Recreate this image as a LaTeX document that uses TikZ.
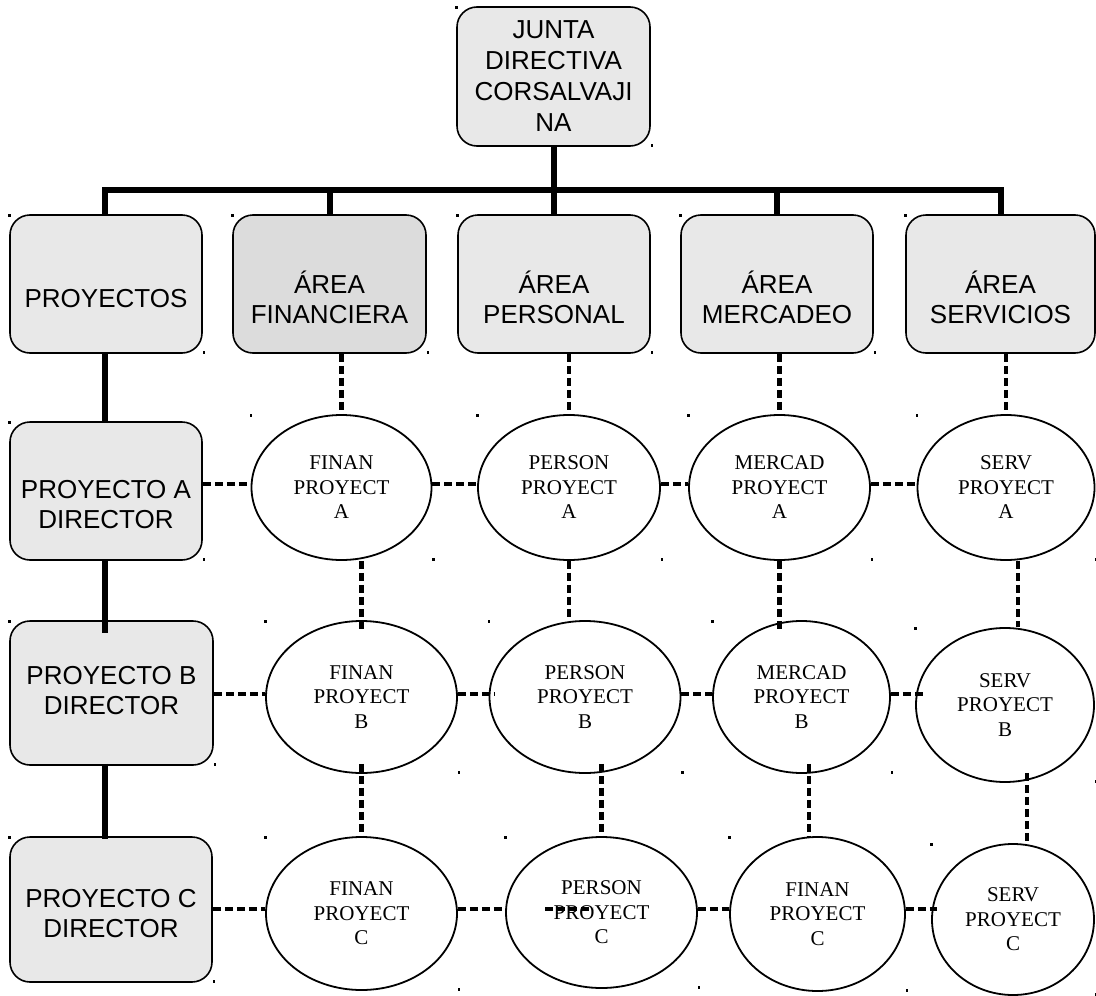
\documentclass[tikz,border=0pt]{standalone}
\usepackage{fontspec}
\setmainfont{Liberation Serif}
\newfontfamily\arialf{Liberation Sans}
\usetikzlibrary{shapes.geometric,calc}
\definecolor{boxgray}{RGB}{232,232,232}
\definecolor{boxdark}{RGB}{220,220,220}
\begin{document}
\begin{tikzpicture}[x=1pt,y=-1pt,
  rbox/.style={draw,line width=1.6pt,rounded corners=20pt,fill=boxgray,inner sep=0pt},
  sanstxt/.style={font=\arialf\fontsize{26}{30}\selectfont,align=center,inner sep=0pt},
  oval/.style={draw,ellipse,line width=1.8pt,inner sep=0pt,align=center,font=\fontsize{21}{24.5}\selectfont},
  solidcon/.style={line width=6pt},
  dashcon/.style={line width=4.5pt,dash pattern=on 8pt off 4pt},
  cornerdot/.style={fill=black}]
\useasboundingbox (0,0) rectangle (1096,996);

% top box
\node[rbox,minimum width=193pt,minimum height=139pt,align=center,
      font=\arialf\fontsize{26}{31}\selectfont] (jd) at (553.5,76.5)
      {JUNTA\\DIRECTIVA\\CORSALVAJI\\NA};

% second row boxes
\node[rbox,minimum width=192pt,minimum height=138pt] (proy) at (106,284) {};
\node[rbox,fill=boxdark,minimum width=193pt,minimum height=138pt] (fin) at (329.5,284) {};
\node[rbox,minimum width=192pt,minimum height=138pt] (per) at (554,284) {};
\node[rbox,minimum width=192pt,minimum height=138pt] (mer) at (777,284) {};
\node[rbox,minimum width=189pt,minimum height=138pt] (ser) at (1000.5,284) {};
\node[sanstxt] (proyT) at ([yshift=-14.5pt]proy.center) {PROYECTOS};
\node[sanstxt] (finT) at ([yshift=-13.5pt]fin.center) {ÁREA\\FINANCIERA};
\node[sanstxt] (perT) at ([yshift=-13.5pt]per.center) {ÁREA\\PERSONAL};
\node[sanstxt] (merT) at ([yshift=-13.5pt]mer.center) {ÁREA\\MERCADEO};
\node[sanstxt] (serT) at ([yshift=-13.5pt]ser.center) {ÁREA\\SERVICIOS};

% director boxes
\node[rbox,minimum width=192pt,minimum height=138pt] (abox) at (106,491) {};
\node[rbox,minimum width=203pt,minimum height=144pt] (bbox) at (111.5,693) {};
\node[rbox,minimum width=202pt,minimum height=145pt] (cbox) at (111,909.5) {};
\node[sanstxt] (aboxT) at ([yshift=-14pt]abox.center) {PROYECTO A\\DIRECTOR};
\node[sanstxt] (bboxT) at ([yshift=2.5pt]bbox.center) {PROYECTO B\\DIRECTOR};
\node[sanstxt] (cboxT) at ([yshift=-4.5pt]cbox.center) {PROYECTO C\\DIRECTOR};

% ellipses
\node[oval,minimum width=180pt,minimum height=145pt] (fa) at (341.5,487.5) {FINAN\\PROYECT\\A};
\node[oval,minimum width=182pt,minimum height=145pt] (pa) at (569,487.5) {PERSON\\PROYECT\\A};
\node[oval,minimum width=181pt,minimum height=145pt] (ma) at (779.5,487.5) {MERCAD\\PROYECT\\A};
\node[oval,minimum width=177pt,minimum height=145pt] (sa) at (1006,487.5) {SERV\\PROYECT\\A};

\node[oval,minimum width=191pt,minimum height=152pt] (fb) at (361.5,697) {FINAN\\PROYECT\\B};
\node[oval,minimum width=191pt,minimum height=152pt] (pb) at (585,697) {PERSON\\PROYECT\\B};
\node[oval,minimum width=177pt,minimum height=152pt] (mb) at (801.5,697) {MERCAD\\PROYECT\\B};
\node[oval,minimum width=178pt,minimum height=154pt] (sb) at (1005,705) {SERV\\PROYECT\\B};

\node[oval,minimum width=191pt,minimum height=153pt] (fc) at (361.5,913.5) {FINAN\\PROYECT\\C};
\node[oval,minimum width=191pt,minimum height=151pt] (pc) at (601.5,912.5) {PERSON\\PROYECT\\C};
\node[oval,minimum width=175pt,minimum height=154pt] (mc) at (817.5,914) {FINAN\\PROYECT\\C};
\node[oval,minimum width=162pt,minimum height=151pt] (sc) at (1013,919.5) {SERV\\PROYECT\\C};

% solid hierarchy lines
\coordinate (bar) at (553.5,190);
\draw[solidcon] (jd.south) -- (jd.south |- bar);
\draw[solidcon] ([xshift=-1pt]proy.north) |- (bar) -| (ser.north);
\draw[solidcon] (fin.north) -- (fin.north |- bar);
\draw[solidcon] (per.north) -- (per.north |- bar);
\draw[solidcon] (mer.north) -- (mer.north |- bar);
\draw[solidcon] ([xshift=-1pt]proy.south) -- ([xshift=-1pt]abox.north);
\draw[solidcon] ([xshift=-1pt]abox.south) -- ([xshift=-1pt,yshift=-13pt]abox.south |- bbox.north);
\draw[solidcon] ([xshift=-1pt,yshift=2pt]abox.south |- bbox.south) -- ([xshift=-1pt,yshift=-3pt]abox.south |- cbox.north);

% dashed horizontal links
\coordinate (rA) at (0,484);
\coordinate (rB) at (0,694);
\coordinate (rC) at (0,909);
\draw[dashcon] (abox.east |- rA) -- (fa.west |- rA);
\draw[dashcon] (fa.east |- rA) -- (pa.west |- rA);
\draw[dashcon] (pa.east |- rA) -- (ma.west |- rA);
\draw[dashcon] (ma.east |- rA) -- (sa.west |- rA);
\draw[dashcon] (bbox.east |- rB) -- (fb.west |- rB);
\draw[dashcon] (fb.east |- rB) -- ([xshift=6pt]pb.west |- rB);
\draw[dashcon] (pb.east |- rB) -- (mb.west |- rB);
\draw[dashcon] (mb.east |- rB) -- ([xshift=8pt]sb.west |- rB);
\draw[dashcon] (cbox.east |- rC) -- (fc.west |- rC);
\draw[dashcon] (fc.east |- rC) -- (pc.west |- rC);
\draw[dashcon] ([xshift=-56.5pt]pc.center |- rC) -- ([xshift=-8.5pt]pc.center |- rC);
\draw[dashcon] (pc.east |- rC) -- (mc.west |- rC);
\draw[dashcon] (mc.east |- rC) -- ([xshift=6pt]sc.west |- rC);

% dashed vertical links
\draw[dashcon] (fa.north |- fin.south) -- (fa.north);
\draw[dashcon] (pa.north |- per.south) -- (pa.north);
\draw[dashcon] (ma.north |- mer.south) -- (ma.north);
\draw[dashcon] (sa.north |- ser.south) -- (sa.north);
\draw[dashcon] (fb.north |- fa.south) -- ([yshift=-10pt]fb.north);
\draw[dashcon] (pa.south) -- (pa.south |- pb.north);
\draw[dashcon] (ma.south) -- ([yshift=-10pt]ma.south |- mb.north);
\draw[dashcon] ([xshift=12pt]sa.south) -- ([xshift=12pt]sa.south |- sb.north);
\draw[dashcon] ([yshift=10pt]fb.south) -- (fb.south |- fc.north);
\draw[dashcon] ([yshift=10pt]pc.north |- pb.south) -- (pc.north);
\draw[dashcon] ([xshift=7.5pt,yshift=10pt]mb.south) -- ([xshift=7.5pt]mb.south |- mc.north);
\draw[dashcon] ([xshift=22pt,yshift=10pt]sb.south) -- ([xshift=22pt]sb.south |- sc.north);

% small corner marks
\foreach \n in {jd,proy,fin,per,mer,ser,abox,bbox,cbox,fa,pa,ma,sa,fb,pb,mb,sb,fc,pc,mc,sc}{
  \fill[cornerdot] ([xshift=-1pt]\n.west |- \n.north) rectangle ++(2.5,2.5);
  \fill[cornerdot] (\n.east |- \n.south) rectangle ++(2.5,-2.5);
}
\end{tikzpicture}
\end{document}
